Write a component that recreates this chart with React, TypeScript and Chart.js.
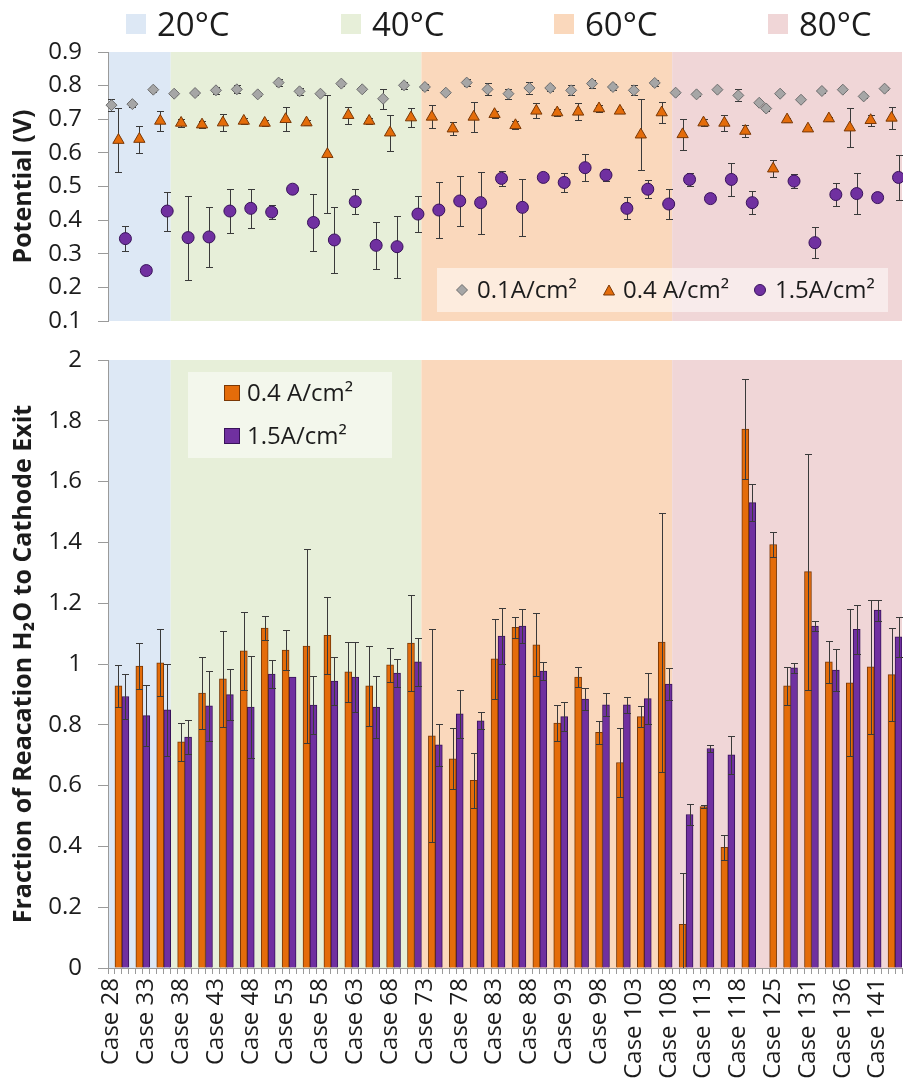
import React, { useEffect, useRef } from 'react';
import { Chart, registerables } from 'chart.js';

Chart.register(...registerables);

// ---------- categories (one per case) ----------
const caseNumbers = [
  28, 29, 30, 31, 32, 33, 34, 35, 36, 37,
  38, 39, 40, 41, 42, 43, 44, 45, 46, 47,
  48, 49, 50, 51, 52, 53, 54, 55, 56, 57,
  58, 59, 60, 61, 62, 63, 64, 65, 66, 67,
  68, 69, 70, 71, 72, 73, 74, 75, 76, 77,
  78, 79, 80, 81, 82, 83, 84, 85, 86, 87,
  88, 89, 90, 91, 92, 93, 94, 95, 96, 97,
  98, 99, 100, 101, 102, 103, 104, 105, 106, 107,
  108, 109, 110, 111, 112, 113, 114, 115, 116, 117,
  118, 119, 120, 121, 123, 125, 126, 127, 128, 129,
  131, 132, 133, 134, 135, 136, 137, 138, 139, 140,
  141, 142, 143, 144,
];
const caseLabels = caseNumbers.map((n) => 'Case ' + n);

// ---------- temperature bands ----------
const tempLabels = ['20°C', '40°C', '60°C', '80°C'];
const tempColors = ['#dde8f5', '#e7efd9', '#fad8bc', '#f0d6d7'];
const tempStartCase = [28, 37, 73, 109];
const tempEndCase = [36, 72, 108, 144];

// ---------- potential, 0.1 A/cm² ----------
const p01Cases = [
  28, 31, 34, 37, 40, 43, 46, 49, 52, 55, 58, 61, 64, 67, 70, 73, 76, 79, 82, 85,
  88, 91, 94, 97, 100, 103, 106, 109, 112, 115, 118, 121, 123, 126, 129, 133, 136, 139, 142,
];
const p01Vals = [
  0.742, 0.745, 0.788, 0.776, 0.778, 0.786, 0.789, 0.774, 0.809, 0.783, 0.776, 0.806, 0.789, 0.761, 0.801,
  0.796, 0.779, 0.809, 0.789, 0.776, 0.793, 0.793, 0.786, 0.806, 0.796, 0.786, 0.808, 0.779, 0.774, 0.788,
  0.771, 0.749, 0.732, 0.776, 0.758, 0.784, 0.788, 0.768, 0.791,
];
const p01Errs = [
  0.018, 0.01, 0.008, 0.005, 0.005, 0.01, 0.012, 0.005, 0.01, 0.01, 0.005, 0.008, 0.006, 0.03, 0.01,
  0.008, 0.005, 0.01, 0.018, 0.015, 0.018, 0.008, 0.015, 0.012, 0.008, 0.015, 0.01, 0.005, 0.005, 0.005,
  0.018, 0.005, 0.008, 0.005, 0.005, 0.005, 0.005, 0.005, 0.005,
];

// ---------- potential, 0.4 A/cm² ----------
const p04Cases = [
  29, 32, 35, 38, 41, 44, 47, 50, 53, 56, 59, 62, 65, 68, 71, 74, 77, 80, 83, 86,
  89, 92, 95, 98, 101, 104, 107, 110, 113, 116, 119, 125, 127, 131, 134, 137, 140, 143,
];
const p04Vals = [
  0.638, 0.641, 0.695, 0.689, 0.684, 0.69, 0.695, 0.689, 0.7, 0.69, 0.596, 0.712, 0.695, 0.66, 0.705,
  0.707, 0.672, 0.707, 0.715, 0.682, 0.725, 0.72, 0.722, 0.732, 0.725, 0.654, 0.72, 0.655, 0.69, 0.689,
  0.665, 0.553, 0.699, 0.672, 0.702, 0.675, 0.697, 0.704,
];
const p04Errs = [
  0.096, 0.04, 0.03, 0.012, 0.01, 0.025, 0.01, 0.008, 0.035, 0.008, 0.176, 0.025, 0.008, 0.054, 0.028,
  0.034, 0.02, 0.044, 0.01, 0.012, 0.022, 0.01, 0.025, 0.01, 0.005, 0.106, 0.03, 0.046, 0.01, 0.023,
  0.019, 0.026, 0.006, 0.006, 0.006, 0.058, 0.016, 0.033,
];

// ---------- potential, 1.5 A/cm² ----------
const p15Cases = [
  30, 33, 36, 39, 42, 45, 48, 51, 54, 57, 60, 63, 66, 69, 72, 75, 78, 81, 84, 87,
  90, 93, 96, 99, 102, 105, 108, 111, 114, 117, 120, 128, 132, 135, 138, 141, 144,
];
const p15Vals = [
  0.345, 0.25, 0.427, 0.348, 0.35, 0.427, 0.435, 0.424, 0.492, 0.393, 0.341, 0.455, 0.325, 0.321, 0.418,
  0.43, 0.457, 0.452, 0.524, 0.438, 0.527, 0.512, 0.556, 0.534, 0.435, 0.492, 0.448, 0.521, 0.464, 0.521,
  0.452, 0.516, 0.333, 0.476, 0.479, 0.467, 0.527,
];
const p15Errs = [
  0.037, 0, 0.058, 0.125, 0.09, 0.065, 0.058, 0.02, 0, 0.085, 0.098, 0.038, 0.07, 0.092, 0.053,
  0.084, 0.074, 0.092, 0.022, 0.084, 0, 0.027, 0.04, 0.018, 0.033, 0.027, 0.045, 0.02, 0, 0.049,
  0.034, 0.02, 0.046, 0.034, 0.06, 0, 0.066,
];

// ---------- fraction of reaction water, bars ----------
const frac04Vals = [
  0.928, 0.993, 1.004, 0.744, 0.904, 0.951, 1.043, 1.118, 1.046, 1.059, 1.094, 0.974, 0.928, 0.997, 1.069,
  0.764, 0.688, 0.617, 1.017, 1.121, 1.063, 0.806, 0.957, 0.775, 0.676, 0.827, 1.072, 0.144, 0.531, 0.397,
  1.773, 1.393, 0.928, 1.304, 1.007, 0.938, 0.991, 0.965,
];
const frac04Errs = [
  0.07, 0.076, 0.11, 0.062, 0.118, 0.157, 0.127, 0.04, 0.066, 0.318, 0.128, 0.098, 0.131, 0.055, 0.157,
  0.35, 0.1, 0.09, 0.131, 0.034, 0.104, 0.06, 0.034, 0.038, 0.114, 0.035, 0.426, 0.168, 0.005, 0.042,
  0.164, 0.042, 0.062, 0.388, 0.069, 0.242, 0.221, 0.153,
];
const frac15Vals = [
  0.893, 0.83, 0.849, 0.76, 0.862, 0.899, 0.858, 0.967, 0.957, 0.865, 0.944, 0.957, 0.858, 0.97, 1.007,
  0.734, 0.836, 0.813, 1.092, 1.125, 0.977, 0.827, 0.885, 0.866, 0.866, 0.886, 0.934, 0.505, 0.722, 0.701,
  1.531, 0.987, 1.125, 0.98, 1.114, 1.177, 1.089,
];
const frac15Errs = [
  0.075, 0.1, 0.15, 0.056, 0.114, 0.084, 0.168, 0.046, 0, 0.096, 0.079, 0.115, 0.102, 0.047, 0.079,
  0.069, 0.079, 0.028, 0.092, 0.056, 0.03, 0.048, 0.037, 0.038, 0.026, 0.084, 0.052, 0.034, 0.012, 0.063,
  0.062, 0.017, 0.016, 0.069, 0.08, 0.035, 0.066,
];

const yTicksTop = [0.1, 0.9];
const yTicksBottom = [0, 2];

// ---------- helpers ----------
const FONT = '"Open Sans", "DejaVu Sans", sans-serif';
const TEXT = '#1c1c1c';
const AXIS = '#9a9a9a';
const ORANGE = '#e46c0a';
const ORANGE_DARK = '#7a3806';
const PURPLE = '#7030a0';
const PURPLE_DARK = '#38125a';
const GRAY = '#a6a6a6';
const GRAY_DARK = '#6e6e6e';

const toPoints = (cases: number[], vals: number[]) =>
  cases.map((c, i) => ({ x: 'Case ' + c, y: vals[i] }));

const zeroPad = (s: any) => {
  s.paddingLeft = 0;
  s.paddingRight = 0;
  s.paddingTop = 0;
  s.paddingBottom = 0;
};

const bandsPlugin = {
  id: 'tempBands',
  beforeDraw(chart: any) {
    const { ctx, chartArea, scales } = chart;
    const x = scales.x;
    const w = x.getPixelForValue(1) - x.getPixelForValue(0);
    ctx.save();
    tempStartCase.forEach((s, k) => {
      const i0 = caseLabels.indexOf('Case ' + s);
      const i1 = caseLabels.indexOf('Case ' + tempEndCase[k]);
      const x0 = x.getPixelForValue(i0) - w / 2;
      const x1 = x.getPixelForValue(i1) + w / 2;
      ctx.fillStyle = tempColors[k];
      ctx.fillRect(x0, chartArea.top, x1 - x0, chartArea.bottom - chartArea.top);
    });
    ctx.restore();
  },
};

function drawErrorBars(chart: any) {
  const { ctx, scales, chartArea } = chart;
  const y = scales.y;
  ctx.save();
  ctx.beginPath();
  ctx.rect(chartArea.left - 10, chartArea.top - 10, chartArea.right - chartArea.left + 20, chartArea.bottom - chartArea.top + 10);
  ctx.clip();
  ctx.strokeStyle = '#3a3a3a';
  ctx.lineWidth = 1;
  chart.data.datasets.forEach((ds: any, i: number) => {
    if (!ds.errors) return;
    const meta = chart.getDatasetMeta(i);
    meta.data.forEach((el: any, j: number) => {
      const e = ds.errors[j];
      const pt = ds.data[j];
      if (!e || !pt) return;
      const xp = Math.round(el.x) + 0.5;
      const yt = Math.round(y.getPixelForValue(pt.y + e)) + 0.5;
      const yb = Math.round(y.getPixelForValue(pt.y - e)) + 0.5;
      const cap = 3.5;
      ctx.beginPath();
      ctx.moveTo(xp, yt);
      ctx.lineTo(xp, yb);
      ctx.moveTo(xp - cap, yt);
      ctx.lineTo(xp + cap, yt);
      ctx.moveTo(xp - cap, yb);
      ctx.lineTo(xp + cap, yb);
      ctx.stroke();
    });
  });
  ctx.restore();
}

const errorBarsPlugin = {
  id: 'errorBars',
  beforeDatasetsDraw(chart: any, _a: any, opts: any) {
    if (opts && opts.behind) drawErrorBars(chart);
  },
  afterDatasetsDraw(chart: any, _a: any, opts: any) {
    if (!(opts && opts.behind)) drawErrorBars(chart);
  },
};

const numFmt = (v: any) => String(Number(Number(v).toFixed(1)));

function Marker({ kind }: { kind: 'diamond' | 'triangle' | 'circle' }) {
  if (kind === 'diamond')
    return (
      <svg width="14" height="14" viewBox="0 0 14 14">
        <polygon points="7,1.5 12.5,7 7,12.5 1.5,7" fill={GRAY} stroke={GRAY_DARK} strokeWidth="1" />
      </svg>
    );
  if (kind === 'triangle')
    return (
      <svg width="14" height="14" viewBox="0 0 14 14">
        <polygon points="7,2 12.5,12 1.5,12" fill={ORANGE} stroke={ORANGE_DARK} strokeWidth="1" />
      </svg>
    );
  return (
    <svg width="14" height="14" viewBox="0 0 14 14">
      <circle cx="7" cy="7" r="5.5" fill={PURPLE} stroke={PURPLE_DARK} strokeWidth="1" />
    </svg>
  );
}

export default function App() {
  const topRef = useRef<HTMLCanvasElement>(null);
  const botRef = useRef<HTMLCanvasElement>(null);

  useEffect(() => {
    const tickFont = { family: FONT, size: 24 };

    const top = new Chart(topRef.current!, {
      type: 'line',
      data: {
        labels: caseLabels,
        datasets: [
          {
            label: '0.1A/cm²',
            data: toPoints(p01Cases, p01Vals),
            errors: p01Errs,
            showLine: false,
            pointStyle: 'rectRot',
            pointRadius: 5.5,
            pointBackgroundColor: GRAY,
            pointBorderColor: GRAY_DARK,
            pointBorderWidth: 1,
          } as any,
          {
            label: '0.4 A/cm²',
            data: toPoints(p04Cases, p04Vals),
            errors: p04Errs,
            showLine: false,
            pointStyle: 'triangle',
            pointRadius: 6.5,
            pointBackgroundColor: ORANGE,
            pointBorderColor: ORANGE_DARK,
            pointBorderWidth: 1,
          } as any,
          {
            label: '1.5A/cm²',
            data: toPoints(p15Cases, p15Vals),
            errors: p15Errs,
            showLine: false,
            pointStyle: 'circle',
            pointRadius: 6,
            pointBackgroundColor: PURPLE,
            pointBorderColor: PURPLE_DARK,
            pointBorderWidth: 1,
          } as any,
        ],
      },
      options: {
        responsive: false,
        animation: false,
        events: [],
        layout: { autoPadding: false, padding: { top: 52, bottom: 14, left: 0, right: 1 } },
        plugins: {
          legend: { display: false },
          tooltip: { enabled: false },
          errorBars: { behind: true },
        } as any,
        scales: {
          x: { type: 'category', display: false, offset: true, afterFit: zeroPad },
          y: {
            min: yTicksTop[0],
            max: yTicksTop[1],
            afterFit: (s: any) => {
              zeroPad(s);
              s.width = 108;
            },
            ticks: { stepSize: 0.1, font: tickFont, color: TEXT, padding: 16, callback: numFmt },
            grid: { drawOnChartArea: false, tickLength: 10, color: AXIS },
            border: { color: AXIS },
            title: {
              display: true,
              text: 'Potential (V)',
              font: { family: FONT, size: 25, weight: 'bold' },
              color: TEXT,
              padding: { top: 9, bottom: 0 },
            },
          },
        },
      },
      plugins: [bandsPlugin, errorBarsPlugin],
    });

    const bot = new Chart(botRef.current!, {
      type: 'bar',
      data: {
        labels: caseLabels,
        datasets: [
          {
            label: '0.4 A/cm²',
            data: toPoints(p04Cases, frac04Vals),
            errors: frac04Errs,
            backgroundColor: ORANGE,
            borderColor: ORANGE_DARK,
            borderWidth: 1,
            grouped: false,
            barPercentage: 1,
            categoryPercentage: 1,
          } as any,
          {
            label: '1.5A/cm²',
            data: toPoints(p15Cases, frac15Vals),
            errors: frac15Errs,
            backgroundColor: PURPLE,
            borderColor: PURPLE_DARK,
            borderWidth: 1,
            grouped: false,
            barPercentage: 1,
            categoryPercentage: 1,
          } as any,
        ],
      },
      options: {
        responsive: false,
        animation: false,
        events: [],
        layout: { autoPadding: false, padding: { top: 25, bottom: 0, left: 0, right: 1 } },
        plugins: {
          legend: { display: false },
          tooltip: { enabled: false },
          errorBars: { behind: false },
        } as any,
        scales: {
          x: {
            type: 'category',
            offset: true,
            afterFit: (s: any) => {
              zeroPad(s);
              s.height = 113;
            },
            ticks: {
              autoSkip: false,
              maxRotation: 90,
              minRotation: 90,
              font: tickFont,
              color: TEXT,
              padding: 4,
              callback: function (this: any, value: any, index: number) {
                return index % 5 === 0 ? this.getLabelForValue(value) : '';
              },
            },
            grid: { offset: true, drawOnChartArea: false, tickLength: 6, color: AXIS },
            border: { color: AXIS },
          },
          y: {
            min: yTicksBottom[0],
            max: yTicksBottom[1],
            afterFit: (s: any) => {
              zeroPad(s);
              s.width = 108;
            },
            ticks: { stepSize: 0.2, font: tickFont, color: TEXT, padding: 16, callback: numFmt },
            grid: { drawOnChartArea: false, tickLength: 10, color: AXIS },
            border: { color: AXIS },
            title: {
              display: true,
              text: 'Fraction of Reacation H₂O to Cathode Exit',
              font: { family: FONT, size: 25, weight: 'bold' },
              color: TEXT,
              padding: { top: 9, bottom: 0 },
            },
          },
        },
      },
      plugins: [bandsPlugin, errorBarsPlugin],
    });

    return () => {
      top.destroy();
      bot.destroy();
    };
  }, []);

  const headerX = [126, 341, 554, 768];

  return (
    <div
      style={{
        position: 'absolute',
        left: 0,
        top: 0,
        width: 903,
        height: 1081,
        background: '#fff',
        fontFamily: FONT,
        color: TEXT,
        overflow: 'hidden',
      }}
    >
      <canvas ref={topRef} width={903} height={335} style={{ position: 'absolute', left: 0, top: 0 }} />
      <canvas ref={botRef} width={903} height={746} style={{ position: 'absolute', left: 0, top: 335 }} />

      {tempLabels.map((t, k) => (
        <div
          key={t}
          style={{
            position: 'absolute',
            left: headerX[k],
            top: 5,
            height: 38,
            display: 'flex',
            alignItems: 'center',
            gap: 11,
            whiteSpace: 'nowrap',
          }}
        >
          <span style={{ display: 'inline-block', width: 20, height: 20, background: tempColors[k] }} />
          <span style={{ fontSize: 33, lineHeight: '38px' }}>{t}</span>
        </div>
      ))}

      {/* potential legend */}
      <div
        style={{
          position: 'absolute',
          left: 437,
          top: 268,
          width: 451,
          height: 44,
          background: 'rgba(255,255,255,0.5)',
        }}
      />
      {[
        { kind: 'diamond' as const, mx: 462, tx: 477, text: '0.1A/cm²' },
        { kind: 'triangle' as const, mx: 609, tx: 623, text: '0.4 A/cm²' },
        { kind: 'circle' as const, mx: 760, tx: 775, text: '1.5A/cm²' },
      ].map((it) => (
        <React.Fragment key={it.text}>
          <div style={{ position: 'absolute', left: it.mx - 7, top: 283, width: 14, height: 14, lineHeight: 0 }}>
            <Marker kind={it.kind} />
          </div>
          <div style={{ position: 'absolute', left: it.tx, top: 277, fontSize: 24, lineHeight: '24px', whiteSpace: 'nowrap' }}>
            {it.text}
          </div>
        </React.Fragment>
      ))}

      {/* fraction legend */}
      <div
        style={{
          position: 'absolute',
          left: 188,
          top: 372,
          width: 204,
          height: 86,
          background: 'rgba(255,255,255,0.5)',
        }}
      />
      {[
        { fill: ORANGE, border: ORANGE_DARK, y: 393, text: '0.4 A/cm²' },
        { fill: PURPLE, border: PURPLE_DARK, y: 436, text: '1.5A/cm²' },
      ].map((it) => (
        <React.Fragment key={it.text}>
          <div
            style={{
              position: 'absolute',
              left: 224,
              top: it.y - 8,
              width: 14,
              height: 14,
              background: it.fill,
              border: '1px solid ' + it.border,
            }}
          />
          <div style={{ position: 'absolute', left: 247, top: it.y - 13, fontSize: 24, lineHeight: '24px', whiteSpace: 'nowrap' }}>
            {it.text}
          </div>
        </React.Fragment>
      ))}
    </div>
  );
}
